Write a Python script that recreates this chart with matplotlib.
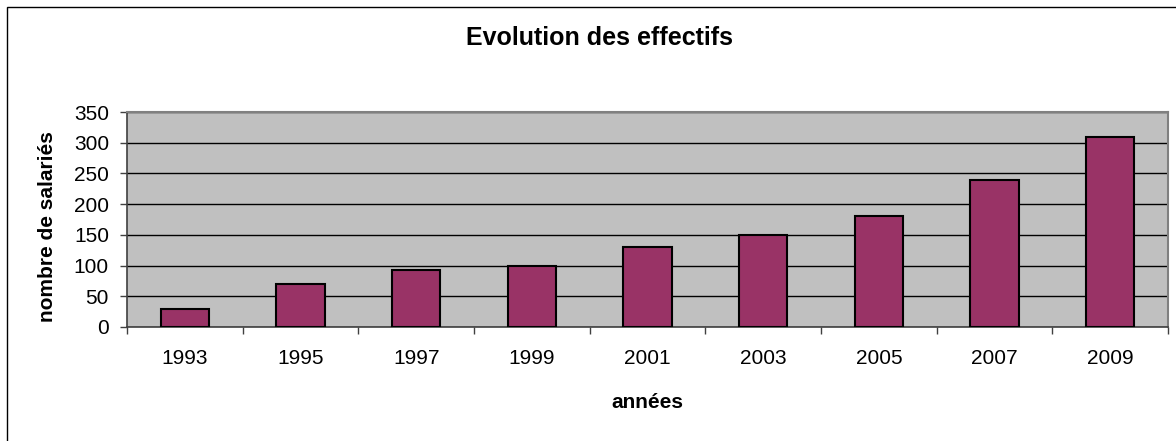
import numpy as np
import matplotlib
matplotlib.use("Agg")
import matplotlib.pyplot as plt
from matplotlib.patches import Rectangle

plt.rcParams['font.family'] = ['Liberation Sans', 'DejaVu Sans']

# data
annees = ['1993', '1995', '1997', '1999', '2001', '2003', '2005', '2007', '2009']
salaries = [30, 70, 92, 100, 130, 150, 180, 240, 310]
yticks = [0, 50, 100, 150, 200, 250, 300, 350]

W, H = 1176, 441
fig = plt.figure(figsize=(W / 100, H / 100), dpi=100)
ax = fig.add_axes([127 / W, 1 - 327 / H, (1168 - 127) / W, (327 - 112) / H])

ax.set_facecolor('#c0c0c0')
x = np.arange(len(annees))
ax.bar(x, salaries, width=0.42, color='#993366', edgecolor='black', linewidth=1.5, zorder=3)

ax.set_xlim(-0.5, len(annees) - 0.5)
ax.set_ylim(0, 350)
ax.set_yticks(yticks)
ax.set_yticklabels([str(v) for v in yticks])
ax.yaxis.grid(True, color='black', linewidth=1, zorder=1)
ax.set_axisbelow(True)

ax.set_xticks(x)
ax.set_xticklabels(annees)
ax.set_xticks(np.arange(-0.5, len(annees)), minor=True)
ax.tick_params(axis='x', which='major', length=0, pad=16, labelsize=15)
ax.tick_params(axis='x', which='minor', length=5, width=1, color='#404040')
ax.tick_params(axis='y', length=5, width=1, color='#404040', pad=8, labelsize=15)

for side in ['top', 'right']:
    ax.spines[side].set_color('#808080')
    ax.spines[side].set_linewidth(1.5)
ax.spines['left'].set_color('#404040')
ax.spines['bottom'].set_color('#404040')
ax.spines['left'].set_linewidth(1.2)
ax.spines['bottom'].set_linewidth(1.2)

ax.set_xlabel('années', fontsize=15, fontweight='bold', labelpad=18)
fig.text(48 / W, 1 - 227 / H, 'nombre de salariés', rotation=90, fontsize=15,
         fontweight='bold', ha='center', va='center')
fig.text(600 / W, 1 - 38 / H, 'Evolution des effectifs', fontsize=18,
         fontweight='bold', ha='center', va='center')

# outer chart border
fig.patches.append(Rectangle((7 / W, -0.1), 1.2, 1 - 7 / H + 0.1,
                             transform=fig.transFigure, fill=False,
                             edgecolor='black', linewidth=1))

fig.savefig('out.png', dpi=100)
